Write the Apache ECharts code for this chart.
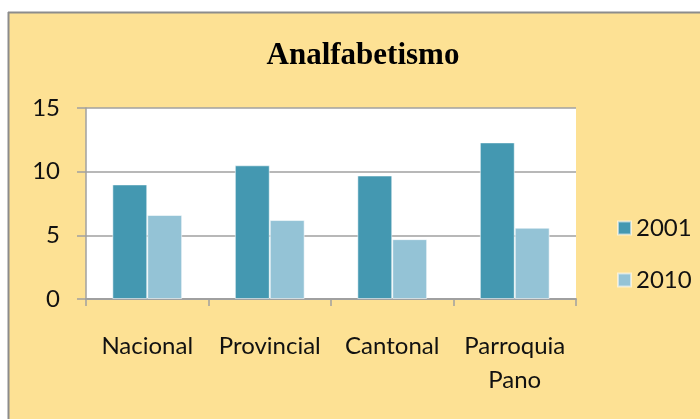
<!DOCTYPE html>
<html>
<head>
<meta charset="utf-8">
<script src="https://cdn.jsdelivr.net/npm/echarts@6/dist/echarts.min.js"></script>
<style>
  html, body { margin: 0; padding: 0; background: #ffffff; }
  #chart { width: 700px; height: 419px; }
</style>
</head>
<body>
<div id="chart"></div>
<script>
// Illiteracy rate (%) by territorial level, census years 2001 and 2010
const categories = ['Nacional', 'Provincial', 'Cantonal', 'Parroquia\nPano'];
const seriesNames = ['2001', '2010'];
const values2001 = [9.0, 10.5, 9.7, 12.3];
const values2010 = [6.6, 6.2, 4.7, 5.6];
const yTicks = { min: 0, max: 15, interval: 5 };

const labelFont = 'Lato, "Liberation Sans", sans-serif';
const panelColor = '#FDE194';
const edgeColor = '#8C8C8C';
const axisGray = '#A0A0A0';

const chart = echarts.init(document.getElementById('chart'), null, { renderer: 'canvas' });

chart.setOption({
  backgroundColor: '#ffffff',
  animation: false,
  graphic: [
    // chart panel with a grey edge on its top and left sides
    { type: 'rect', z: -10, shape: { x: 8, y: 12, width: 720, height: 440 },
      style: { fill: panelColor } },
    { type: 'line', z: -9, shape: { x1: 8.5, y1: 12, x2: 8.5, y2: 440 },
      style: { stroke: edgeColor, lineWidth: 2 } },
    { type: 'line', z: -9, shape: { x1: 8, y1: 12.5, x2: 720, y2: 12.5 },
      style: { stroke: edgeColor, lineWidth: 2 } }
  ],
  title: {
    text: 'Analfabetismo',
    left: 358,
    top: 35,
    textAlign: 'center',
    textStyle: {
      fontFamily: '"Liberation Serif", "DejaVu Serif", serif',
      fontWeight: 'bold',
      fontSize: 31,
      color: '#000000'
    }
  },
  legend: {
    orient: 'vertical',
    left: 617,
    top: 216,
    padding: 0,
    icon: 'rect',
    itemWidth: 13,
    itemHeight: 13,
    itemGap: 28,
    data: seriesNames,
    textStyle: { fontFamily: labelFont, fontSize: 24, color: '#111111' }
  },
  grid: {
    left: 86,
    right: 124,
    top: 108,
    bottom: 120,
    show: true,
    backgroundColor: '#ffffff',
    borderWidth: 0,
    containLabel: false
  },
  xAxis: {
    type: 'category',
    data: categories,
    axisLine: { show: true, lineStyle: { color: axisGray, width: 2 } },
    axisTick: { show: true, interval: 0, length: 7, lineStyle: { color: axisGray, width: 1.5 } },
    axisLabel: {
      interval: 0,
      margin: 30,
      fontFamily: labelFont,
      fontSize: 24,
      lineHeight: 34,
      color: '#111111'
    },
    splitLine: { show: false }
  },
  yAxis: {
    type: 'value',
    min: yTicks.min,
    max: yTicks.max,
    interval: yTicks.interval,
    axisLine: { show: true, lineStyle: { color: axisGray, width: 1.5 } },
    axisTick: { show: true, length: 9, lineStyle: { color: axisGray, width: 1.5 } },
    axisLabel: {
      margin: 26,
      fontFamily: labelFont,
      fontSize: 24,
      color: '#111111'
    },
    splitLine: { show: true, lineStyle: { color: axisGray, width: 1.5 } }
  },
  series: [
    {
      name: seriesNames[0],
      type: 'bar',
      data: values2001,
      barGap: '0%',
      barCategoryGap: '43%',
      itemStyle: { color: '#4498B1', borderColor: 'rgba(255,255,255,0.55)', borderWidth: 1 }
    },
    {
      name: seriesNames[1],
      type: 'bar',
      data: values2010,
      barGap: '0%',
      barCategoryGap: '43%',
      itemStyle: { color: '#94C3D6', borderColor: 'rgba(255,255,255,0.55)', borderWidth: 1 }
    }
  ]
});
</script>
</body>
</html>
